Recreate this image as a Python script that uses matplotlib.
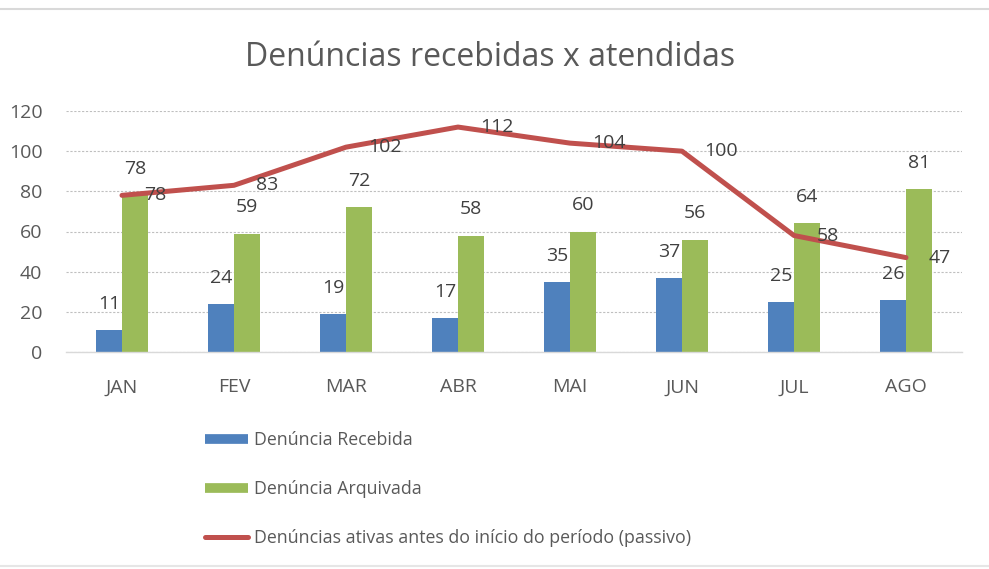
import numpy as np
import matplotlib.pyplot as plt
from matplotlib.lines import Line2D

plt.rcParams['font.family'] = ['Open Sans', 'DejaVu Sans']

# data
meses = ['JAN', 'FEV', 'MAR', 'ABR', 'MAI', 'JUN', 'JUL', 'AGO']
recebidas = [11, 24, 19, 17, 35, 37, 25, 26]
arquivadas = [78, 59, 72, 58, 60, 56, 64, 81]
passivo = [78, 83, 102, 112, 104, 100, 58, 47]

AZUL = '#4F81BD'
VERDE = '#9BBB59'
VERMELHO = '#C0504D'
CINZA = '#595959'

fig = plt.figure(figsize=(9.89, 5.69), dpi=100)
ax = fig.add_axes([66/989, 1 - 352/569, 896/989, 241/569])

x = np.arange(len(meses))
w = 0.232
ax.bar(x - w/2, recebidas, w, color=AZUL, zorder=2)
ax.bar(x + w/2, arquivadas, w, color=VERDE, zorder=2)
ax.plot(x, passivo, color=VERMELHO, lw=3.6, zorder=3, solid_capstyle='round')

# data labels
for xi, v in zip(x - w/2, recebidas):
    ax.text(xi, v + 13, str(v), ha='center', va='center', fontsize=14, color='#404040')
for xi, v in zip(x + w/2, arquivadas):
    ax.text(xi, v + 13, str(v), ha='center', va='center', fontsize=14, color='#404040')
for xi, v in zip(x, passivo):
    ax.text(xi + 0.2, v, str(v), ha='left', va='center', fontsize=14, color='#404040', zorder=4)

ax.set_xlim(-0.5, len(meses) - 0.5)
ax.set_ylim(0, 120)
ax.set_yticks(range(0, 121, 20))
ax.set_xticks(x)
ax.set_xticklabels(meses)
ax.tick_params(axis='both', length=0, labelsize=14, labelcolor=CINZA)
ax.tick_params(axis='x', pad=19)
ax.tick_params(axis='y', pad=17)

ax.grid(axis='y', color='#BFBFBF', lw=0.8, ls=(0, (2, 1.5)), zorder=0)
for s in ['top', 'right', 'left']:
    ax.spines[s].set_visible(False)
ax.spines['bottom'].set_color('#D9D9D9')
ax.spines['bottom'].set_linewidth(1)

fig.text(490/989, 1 - 57/569, 'Denúncias recebidas x atendidas', ha='center', va='center',
         fontsize=23, color=CINZA)

handles = [
    Line2D([], [], color=AZUL, lw=7, solid_capstyle='butt'),
    Line2D([], [], color=VERDE, lw=7, solid_capstyle='butt'),
    Line2D([], [], color=VERMELHO, lw=3.6, solid_capstyle='round'),
]
labels = ['Denúncia Recebida', 'Denúncia Arquivada',
          'Denúncias ativas antes do início do período (passivo)']
fig.legend(handles, labels, loc='upper left', bbox_to_anchor=(205/989, 1 - 431/569),
           frameon=False, fontsize=12.8, labelcolor=CINZA, handlelength=2.4,
           handletextpad=0.33, labelspacing=1.74, borderaxespad=0, borderpad=0)

# top and bottom border lines
fig.add_artist(Line2D([0, 1], [1 - 9/569, 1 - 9/569], color='#D9D9D9', lw=1.5))
fig.add_artist(Line2D([0, 1], [1 - 566/569, 1 - 566/569], color='#E6E6E6', lw=1.5))

fig.savefig('out.png', dpi=100)
